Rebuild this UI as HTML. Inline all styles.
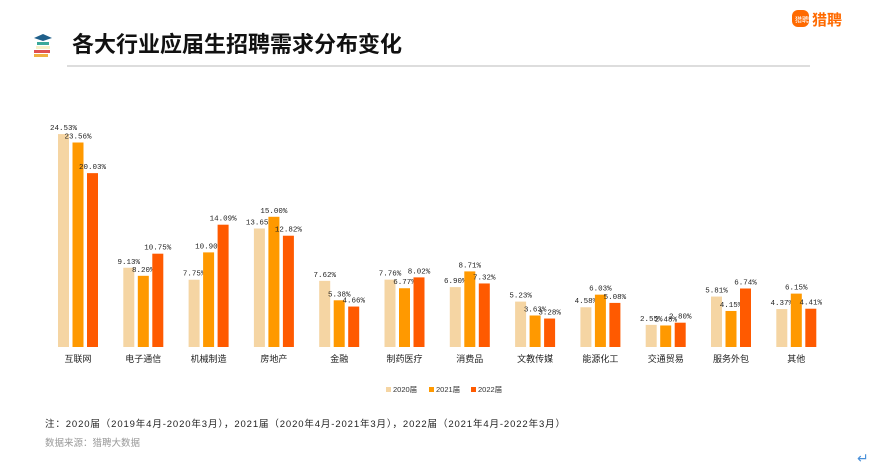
<!DOCTYPE html>
<html><head><meta charset="utf-8"><style>
html,body{margin:0;padding:0;background:#fff;width:881px;height:474px;overflow:hidden;font-family:"Liberation Sans","Noto Sans CJK SC",sans-serif;}
</style></head><body>
<svg id="chart" width="881" height="474" xmlns="http://www.w3.org/2000/svg">
  <g>
    <rect x="34" y="54" width="14" height="3" fill="#f0b040"/>
    <rect x="34" y="50" width="16" height="3" fill="#e05050"/>
    <rect x="36" y="46" width="14" height="3" fill="#f5f0c8"/>
    <rect x="37" y="42" width="12" height="3" fill="#3aa89a"/>
    <polygon points="34,38 43,34 52,38 43,41" fill="#1f5f8a"/>
  </g>
  <text x="72" y="52" font-size="22" font-weight="bold" fill="#111">各大行业应届生招聘需求分布变化</text>
  <line x1="67" y1="66" x2="810" y2="66" stroke="#bbb" stroke-width="1"/>
  <g>
    <rect x="792" y="10" width="17" height="17" rx="6" fill="#ff6a00"/>
    <text x="795" y="22" font-size="7" fill="#fff">猎聘</text>
    <text x="812" y="25" font-size="15" font-weight="bold" fill="#ff6a00">猎聘</text>
  </g>
  <g id="bars"></g>
  <g>
    <rect x="386" y="387" width="5" height="5" fill="#f5d5a3"/>
    <text x="393" y="392" font-size="7.5" fill="#333">2020届</text>
    <rect x="429" y="387" width="5" height="5" fill="#ff9900"/>
    <text x="436" y="392" font-size="7.5" fill="#333">2021届</text>
    <rect x="471" y="387" width="5" height="5" fill="#ff5a00"/>
    <text x="478" y="392" font-size="7.5" fill="#333">2022届</text>
  </g>
  <text x="45" y="427" font-size="9.5" fill="#222" textLength="520" lengthAdjust="spacing">注：2020届（2019年4月-2020年3月），2021届（2020年4月-2021年3月），2022届（2021年4月-2022年3月）</text>
  <text x="45" y="446" font-size="9.5" fill="#999">数据来源：猎聘大数据</text>
  <text x="857" y="463" font-size="14" fill="#4a90d9">↵</text>
</svg>
<script>
const categories = ["互联网","电子通信","机械制造","房地产","金融","制药医疗","消费品","文教传媒","能源化工","交通贸易","服务外包","其他"];
const values2020 = [24.53,9.13,7.75,13.65,7.62,7.76,6.90,5.23,4.58,2.55,5.81,4.37];
const values2021 = [23.56,8.20,10.90,15.00,5.38,6.77,8.71,3.63,6.03,2.48,4.15,6.15];
const values2022 = [20.03,10.75,14.09,12.82,4.66,8.02,7.32,3.28,5.08,2.80,6.74,4.41];
const series = [values2020, values2021, values2022];
const colors = ["#f5d5a3","#ff9900","#ff5a00"];
const seriesNames = ["2020","2021","2022"];
const baseY = 347, scale = 8.68;
const x0 = 78, step = 65.3, barW = 11, barStep = 14.5;
function xCenter(i){ return x0 + i*step; }
function yVal(v){ return baseY - v*scale; }
const g = document.getElementById('bars');
const NS = "http://www.w3.org/2000/svg";
categories.forEach((c,i)=>{
  series.forEach((s,k)=>{
    const cx = xCenter(i) + (k-1)*barStep;
    const r = document.createElementNS(NS,'rect');
    r.setAttribute('x', cx - barW/2);
    r.setAttribute('y', yVal(s[i]));
    r.setAttribute('width', barW);
    r.setAttribute('height', s[i]*scale);
    r.setAttribute('fill', colors[k]);
    
    
    g.appendChild(r);
    const t = document.createElementNS(NS,'text');
    t.setAttribute('x', cx);
    t.setAttribute('y', yVal(s[i]) - 4);
    t.setAttribute('font-size', '7.5');
    t.setAttribute('font-family', '"Liberation Mono",monospace');
    t.setAttribute('text-anchor', 'middle');
    t.setAttribute('fill', '#222');
    t.textContent = s[i].toFixed(2) + '%';
    
    
    g.appendChild(t);
  });
  const lt = document.createElementNS(NS,'text');
  lt.setAttribute('x', xCenter(i));
  lt.setAttribute('y', baseY + 15);
  lt.setAttribute('font-size', '9');
  lt.setAttribute('text-anchor', 'middle');
  lt.setAttribute('fill', '#222');
  lt.textContent = c;
  
  
  g.appendChild(lt);
});
</script>
</body></html>
